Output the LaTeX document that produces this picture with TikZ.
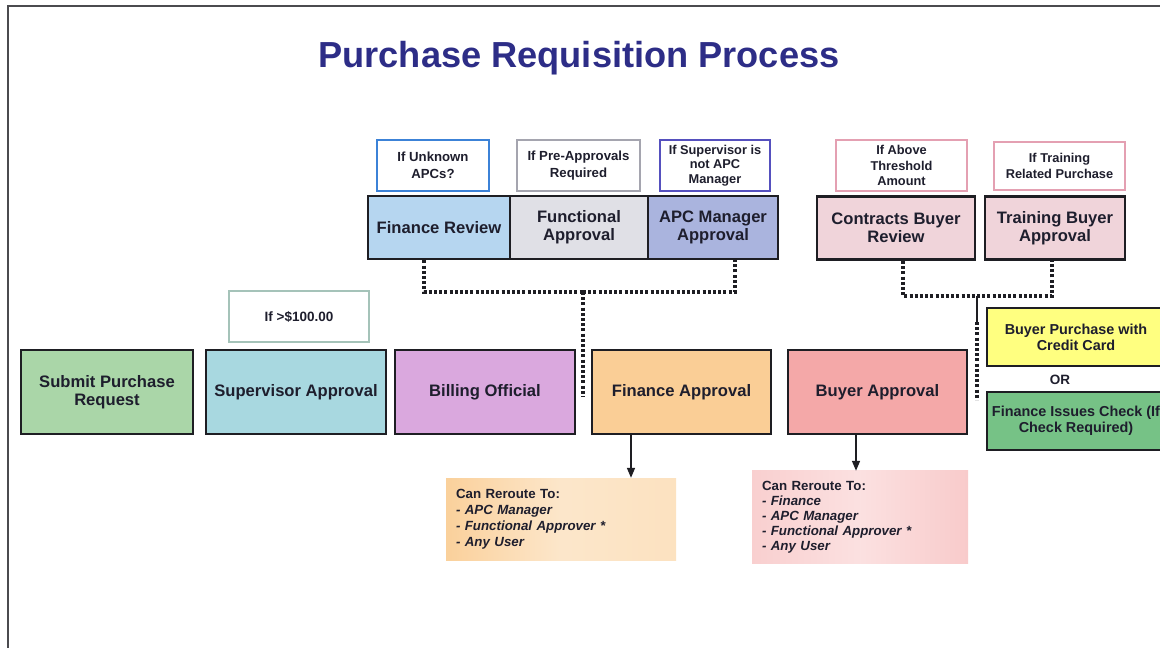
\documentclass[tikz,border=0pt]{standalone}
\usepackage{fontspec}
\setmainfont{Liberation Sans}
\usetikzlibrary{arrows.meta,calc}
\definecolor{ttl}{RGB}{45,45,135}
\definecolor{bord}{RGB}{30,30,35}
\definecolor{txt}{RGB}{30,30,45}
\definecolor{cgreen}{RGB}{170,214,168}
\definecolor{cblue}{RGB}{168,216,224}
\definecolor{cviolet}{RGB}{218,168,222}
\definecolor{corange}{RGB}{250,206,150}
\definecolor{csalmon}{RGB}{244,168,168}
\definecolor{cyellow}{RGB}{255,255,128}
\definecolor{cdgreen}{RGB}{118,194,134}
\definecolor{cfinrev}{RGB}{182,214,240}
\definecolor{cfunc}{RGB}{224,224,230}
\definecolor{capc}{RGB}{170,180,222}
\definecolor{cpink}{RGB}{240,212,218}
\definecolor{bblue}{RGB}{60,130,215}
\definecolor{bgrey}{RGB}{165,165,175}
\definecolor{bpurple}{RGB}{85,80,190}
\definecolor{bpink}{RGB}{228,160,178}
\definecolor{bteal}{RGB}{165,195,185}
\begin{document}
\begin{tikzpicture}[x=1pt,y=-1pt,
  mainbox/.style={draw=bord, line width=2.8pt, minimum height=84pt, inner sep=1pt, align=center,
    font=\fontsize{16.6}{18}\selectfont\bfseries, text=txt},
  topbox/.style={mainbox, minimum height=63pt},
  sidebox/.style={mainbox, minimum height=58pt, font=\fontsize{14.4}{16}\selectfont\bfseries},
  condbox/.style={draw, line width=1.6pt, fill=white, minimum height=51pt, inner sep=1pt, align=center,
    font=\fontsize{13.2}{16.5}\selectfont\bfseries, text=txt},
  rerbox/.style={minimum height=82pt, inner sep=10pt, align=left,
    font=\fontsize{13.3}{16}\selectfont\bfseries, text=txt},
  dotline/.style={draw=bord, line width=3.2pt, dash pattern=on 3pt off 2.2pt},
  arr/.style={draw=bord, line width=1.6pt, -{Triangle[length=10pt,width=8pt]}},
  frame/.style={draw=bord!80, line width=1.8pt}]
\useasboundingbox (0,0) rectangle (1160,648);
\fill[white] (0,0) rectangle (1160,648);
% frame
\coordinate (f1) at (8,648);
\coordinate (f2) at (8,6);
\coordinate (f3) at (1160,6);
\draw[frame] (f1) -- (f2) -- (f3);
% title
\node[text=ttl, font=\fontsize{36.2}{38}\selectfont\bfseries] (title) at (579,58) {Purchase Requisition Process};
% main row
\node[mainbox, fill=cgreen, minimum width=172pt] (submit) at (107,392) {Submit Purchase\\Request};
\node[mainbox, fill=cblue, minimum width=180pt] (super) at (296,392) {Supervisor Approval};
\node[mainbox, fill=cviolet, minimum width=180pt] (billing) at (485,392) {Billing Official};
\node[mainbox, fill=corange, minimum width=179pt] (finapp) at (681.5,392) {Finance Approval};
\node[mainbox, fill=csalmon, minimum width=179pt] (buyer) at (877.5,392) {Buyer Approval};
\node[condbox, draw=bteal, minimum width=140pt, font=\fontsize{13.5}{15}\selectfont\bfseries] (c100) at (299,316.5) {If >\$100.00};
% top row
\node[topbox, fill=cfinrev, minimum width=142pt] (finrev) at (439,227.5) {Finance Review};
\node[topbox, fill=cfunc, minimum width=138pt] (func) at (579,227.5) {Functional\\Approval};
\node[topbox, fill=capc, minimum width=130pt] (apc) at (713,227.5) {APC Manager\\Approval};
\node[topbox, fill=cpink, minimum width=158pt] (contr) at (896,228) {Contracts Buyer\\Review};
\node[topbox, fill=cpink, minimum width=140pt] (train) at (1055,228) {Training Buyer\\Approval};
\node[condbox, draw=bblue, minimum width=112pt] (cunk) at (433,165.5) {If Unknown\\APCs?};
\node[condbox, draw=bgrey, minimum width=123pt] (cpre) at (578.5,165.5) {If Pre-Approvals\\Required};
\node[condbox, draw=bpurple, minimum width=110pt, font=\fontsize{12.8}{14.5}\selectfont\bfseries] (csup) at (715,165.5) {If Supervisor is\\not APC\\Manager};
\node[condbox, draw=bpink, minimum width=131pt, font=\fontsize{12.8}{15.5}\selectfont\bfseries] (cabove) at (901.5,165.5) {If Above\\Threshold\\Amount};
\node[condbox, draw=bpink, minimum width=131pt, minimum height=48pt, font=\fontsize{12.8}{16}\selectfont\bfseries] (ctrain) at (1059.5,166) {If Training\\Related Purchase};
% right column
\node[sidebox, fill=cyellow, minimum width=178pt] (credit) at (1076,337) {Buyer Purchase with\\Credit Card};
\node[font=\fontsize{13.5}{14}\selectfont\bfseries, text=txt] (or) at (1060,380) {OR};
\node[sidebox, fill=cdgreen, minimum width=178pt] (check) at (1076,421) {Finance Issues Check (If\\Check Required)};
% reroute boxes
\node[rerbox, minimum width=230pt, text width=210pt, left color=corange!95, right color=corange!60, middle color=corange!50] (rr1) at (561,519)
  {Can Reroute To:\\\textit{- APC Manager}\\\textit{- Functional Approver *}\\\textit{- Any User}};
\node[rerbox, minimum width=216pt, text width=196pt, left color=csalmon!55, right color=csalmon!60, middle color=csalmon!35, font=\fontsize{13.3}{15}\selectfont\bfseries] (rr2) at (860,517)
  {Can Reroute To:\\\textit{- Finance}\\\textit{- APC Manager}\\\textit{- Functional Approver *}\\\textit{- Any User}};
% dotted connectors (left group)
\coordinate (j1) at (583,292);
\coordinate (e1) at (583,397);
\draw[dotline] ([xshift=-15pt]finrev.south) |- (j1);
\draw[dotline] (j1) -| ([xshift=22pt]apc.south);
\draw[dotline] (j1) -- (e1);
% dotted connectors (right group)
\coordinate (j2) at (977,296);
\coordinate (k2) at (977,322);
\coordinate (e2) at (977,400);
\draw[dotline] ([xshift=7pt]contr.south) |- (j2);
\draw[dotline] (j2) -| ([xshift=-3pt]train.south);
\draw[draw=bord, line width=2.4pt] (j2) -- (k2);
\draw[dotline] (k2) -- (e2);
% arrows
\draw[arr] ([xshift=-50.5pt]finapp.south) -- ([xshift=-50.5pt]finapp.south |- rr1.north);
\draw[arr] ([xshift=-21.5pt]buyer.south) -- ([xshift=-21.5pt]buyer.south |- rr2.north);
\end{tikzpicture}
\end{document}
